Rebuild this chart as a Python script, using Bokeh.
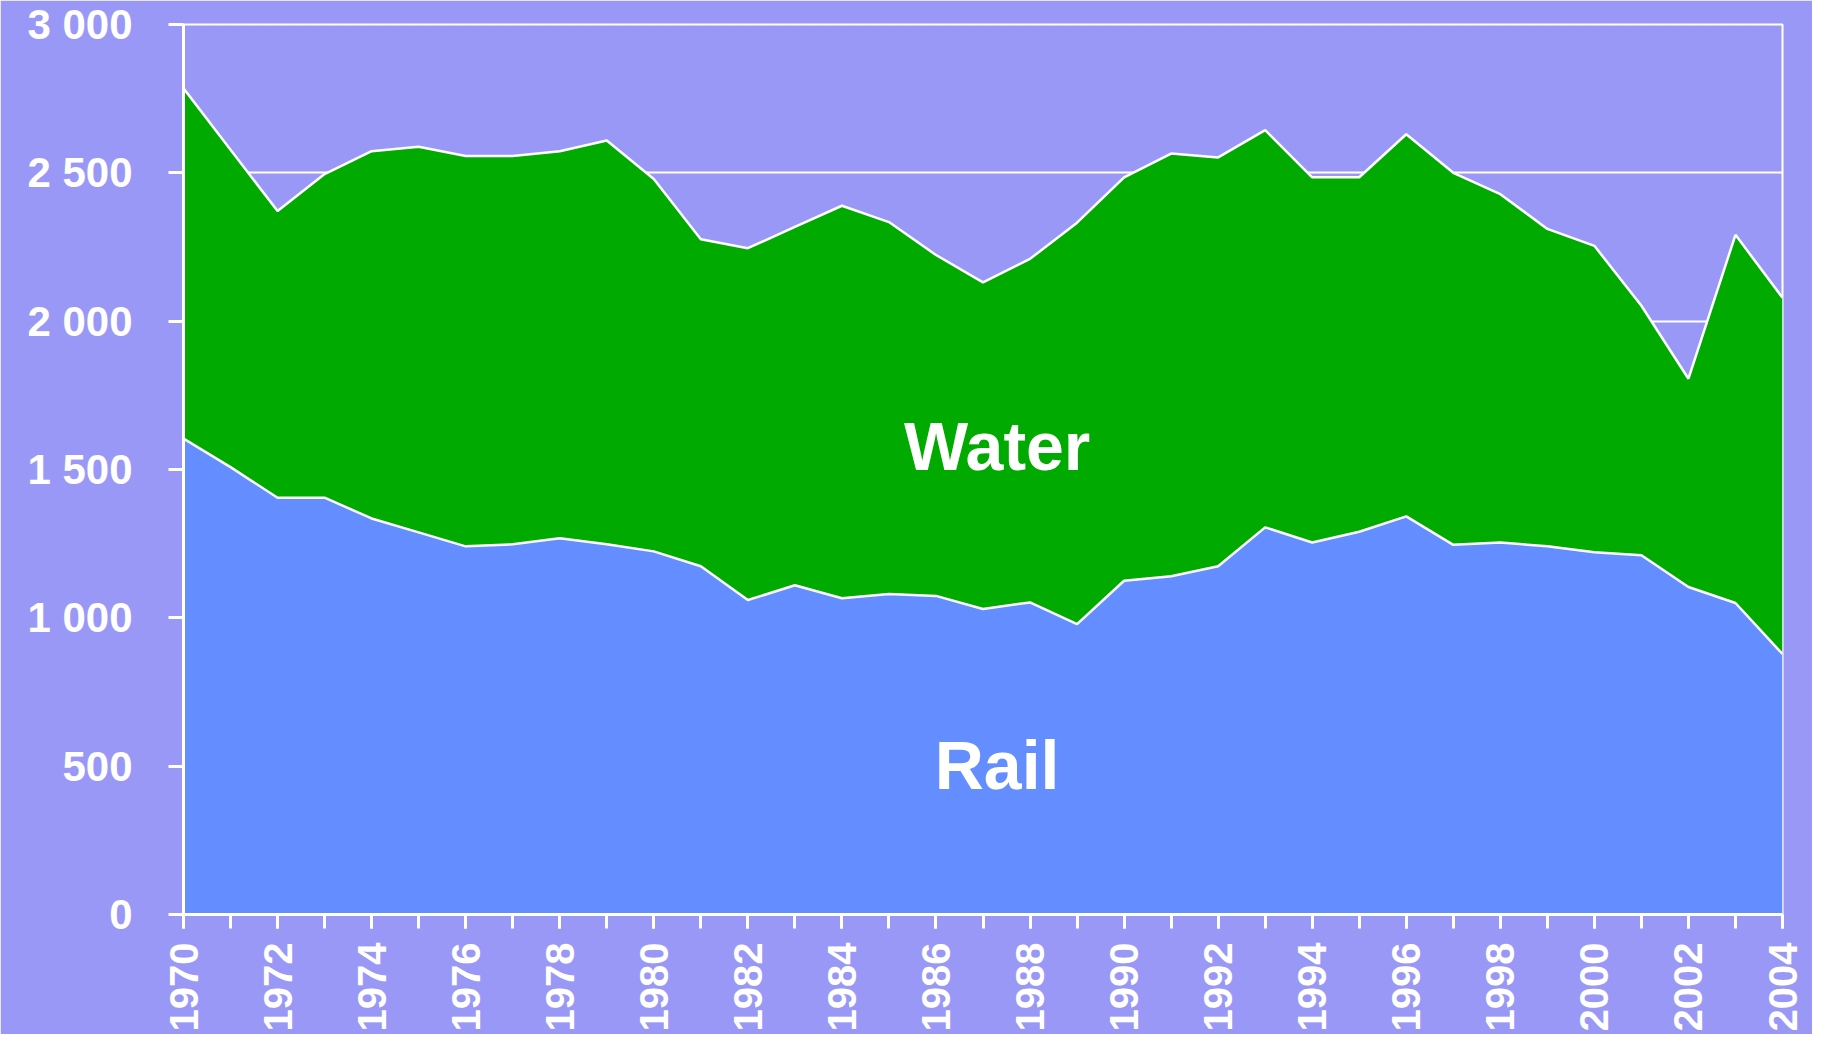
from bokeh.plotting import figure
from bokeh.models import ColumnDataSource, Range1d, FixedTicker
from bokeh.core.properties import value
from bokeh.embed import file_html
from bokeh.resources import INLINE
from math import pi

years = list(range(1970, 2005))
rail = [1604, 1508, 1405, 1405, 1335, 1288, 1241, 1248, 1268, 1248,
        1224, 1174, 1060, 1110, 1066, 1080, 1074, 1030, 1052, 979,
        1125, 1140, 1174, 1305, 1254, 1290, 1342, 1246, 1254, 1241,
        1221, 1211, 1104, 1050, 878]
water = [1181, 1070, 966, 1091, 1238, 1300, 1316, 1309, 1305, 1361,
         1255, 1102, 1186, 1208, 1323, 1254, 1149, 1101, 1158, 1353,
         1360, 1425, 1378, 1339, 1231, 1195, 1288, 1254, 1174, 1070,
         1033, 841, 702, 1241, 1201]

y_ticks = [0, 500, 1000, 1500, 2000, 2500, 3000]
y_tick_labels = ["0", "500", "1 000", "1 500", "2 000", "2 500", "3 000"]
x_label_years = list(range(1970, 2005, 2))

series_names = ["Rail", "Water"]
series_colors = ["#648DFF", "#00AA00"]
label_x = [1987.3, 1987.3]
label_y = [505, 1580]

BG = "#9A98F6"
FONT = "Liberation Sans"

source = ColumnDataSource(dict(year=years, Rail=rail, Water=water))

p = figure(width=1812, height=1034, output_backend="svg", toolbar_location=None,
           x_range=Range1d(1970, 2004), y_range=Range1d(0, 3000),
           min_border_left=183, min_border_top=24, min_border_right=30,
           min_border_bottom=118)

p.background_fill_color = BG
p.border_fill_color = BG
p.outline_line_color = "white"
p.outline_line_width = 2

p.varea_stack(series_names, x="year", source=source, color=series_colors)
p.vline_stack(series_names, x="year", source=source, color="white", line_width=2.5)

labels = ColumnDataSource(dict(x=label_x, y=label_y, t=series_names))
p.text(x="x", y="y", text="t", source=labels, text_color="white",
       text_font=value(FONT), text_font_style="bold", text_font_size="68px",
       text_align="center", text_baseline="middle")

# grid
p.xgrid.visible = False
p.ygrid.ticker = FixedTicker(ticks=y_ticks)
p.ygrid.grid_line_color = "white"
p.ygrid.grid_line_width = 2

# y axis
ya = p.yaxis[0]
ya.ticker = FixedTicker(ticks=y_ticks)
ya.major_label_overrides = {t: l for t, l in zip(y_ticks, y_tick_labels)}
ya.axis_line_color = "white"
ya.axis_line_width = 3
ya.major_tick_line_color = "white"
ya.major_tick_line_width = 3
ya.major_tick_out = 15
ya.major_tick_in = 0
ya.minor_tick_line_color = None
ya.major_label_text_color = "white"
ya.major_label_text_font = FONT
ya.major_label_text_font_style = "bold"
ya.major_label_text_font_size = "42px"
ya.major_label_standoff = 36

# x axis
xa = p.xaxis[0]
xa.ticker = FixedTicker(ticks=x_label_years, minor_ticks=years)
xa.axis_line_color = "white"
xa.axis_line_width = 3
xa.major_tick_line_color = "white"
xa.major_tick_line_width = 3
xa.major_tick_out = 14
xa.major_tick_in = 0
xa.minor_tick_line_color = "white"
xa.minor_tick_line_width = 3
xa.minor_tick_out = 14
xa.minor_tick_in = 0
xa.major_label_text_color = "white"
xa.major_label_text_font = FONT
xa.major_label_text_font_style = "bold"
xa.major_label_text_font_size = "40px"
xa.major_label_orientation = pi / 2
xa.major_label_standoff = 14

open("out.html", "w").write(file_html(p, INLINE))
